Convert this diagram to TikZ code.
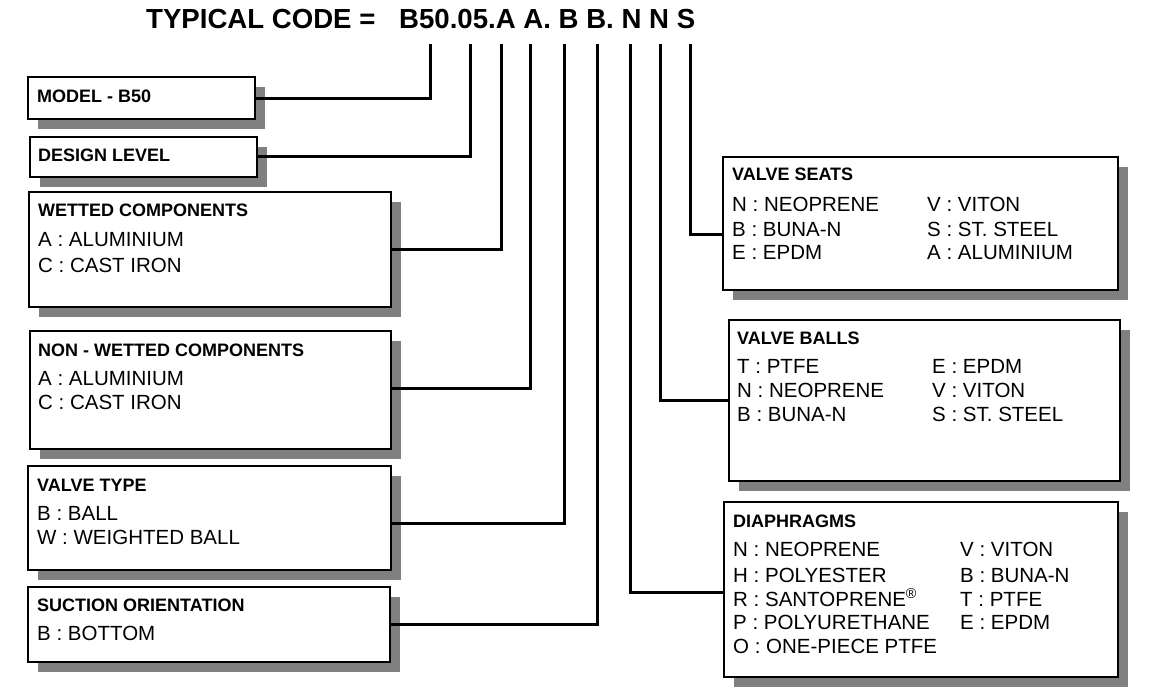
\documentclass[tikz,border=0pt]{standalone}
\usepackage{fontspec}
\setmainfont{Liberation Sans}
\usetikzlibrary{shadows}
\definecolor{shadowgray}{HTML}{808080}
\tikzset{
  box/.style={draw=black, line width=2pt, fill=white, rectangle, inner sep=0pt, outer sep=0pt, anchor=north west,
    general shadow={fill=shadowgray, shadow xshift=10pt, shadow yshift=-10pt}},
  conn/.style={draw=black, line width=3pt},
  lbl/.style={anchor=base west, inner sep=0pt, font=\fontsize{20.5}{24}\selectfont},
  ttl/.style={anchor=base west, inner sep=0pt, font=\fontsize{18}{22}\selectfont\bfseries},
  hdr/.style={anchor=base west, inner sep=0pt, font=\fontsize{27.6}{32}\selectfont\bfseries}
}
\begin{document}
\begin{tikzpicture}[x=1pt,y=-1pt]
\useasboundingbox[fill=white] (0,0) rectangle (1174,695);

% header
\node[hdr] (hd) at (146,29) {TYPICAL CODE =};
\node[hdr] (code) at (399,29) {B50.05.A A. B B. N N S};

% tops of the code leads
\coordinate (c1) at (430,44);
\coordinate (c2) at (470,44);
\coordinate (c3) at (501,44);
\coordinate (c4) at (530,44);
\coordinate (c5) at (564,44);
\coordinate (c6) at (597,44);
\coordinate (c7) at (630,44);
\coordinate (c8) at (660,44);
\coordinate (c9) at (690,44);

% left boxes
\node[box, minimum width=227pt, minimum height=42pt] (mB) at (28,77) {};
\node[ttl] (mBt) at (37,103) {MODEL - B50};

\node[box, minimum width=227pt, minimum height=40pt] (dL) at (30,137) {};
\node[ttl] (dLt) at (38,161) {DESIGN LEVEL};

\node[box, minimum width=362pt, minimum height=115pt] (wC) at (29,192) {};
\node[ttl] (wCt) at (38,216) {WETTED COMPONENTS};
\node[lbl] (wC1) at (38,246) {A : ALUMINIUM};
\node[lbl] (wC2) at (38,272) {C : CAST IRON};

\node[box, minimum width=361pt, minimum height=118pt] (nW) at (30,331) {};
\node[ttl] (nWt) at (38,356) {NON - WETTED COMPONENTS};
\node[lbl] (nW1) at (38,385) {A : ALUMINIUM};
\node[lbl] (nW2) at (38,409) {C : CAST IRON};

\node[box, minimum width=363pt, minimum height=104pt] (vT) at (28,466) {};
\node[ttl] (vTt) at (37,491) {VALVE TYPE};
\node[lbl] (vT1) at (37,520) {B : BALL};
\node[lbl] (vT2) at (37,544) {W : WEIGHTED BALL};

\node[box, minimum width=362pt, minimum height=75pt] (sO) at (28,587) {};
\node[ttl] (sOt) at (37,611) {SUCTION ORIENTATION};
\node[lbl] (sO1) at (37,640) {B : BOTTOM};

% right boxes
\node[box, minimum width=395pt, minimum height=133pt] (vS) at (723,157) {};
\node[ttl] (vSt) at (732,181) {VALVE SEATS};
\node[lbl] (vS1) at (732,211) {N : NEOPRENE};
\node[lbl] (vS2) at (732,236) {B : BUNA-N};
\node[lbl] (vS3) at (732,259) {E : EPDM};
\node[lbl] (vS4) at (927,211) {V : VITON};
\node[lbl] (vS5) at (927,236) {S : ST. STEEL};
\node[lbl] (vS6) at (927,259) {A : ALUMINIUM};

\node[box, minimum width=391pt, minimum height=161pt] (vB) at (729,320) {};
\node[ttl] (vBt) at (737,344) {VALVE BALLS};
\node[lbl] (vB1) at (737,373) {T : PTFE};
\node[lbl] (vB2) at (737,397) {N : NEOPRENE};
\node[lbl] (vB3) at (737,421) {B : BUNA-N};
\node[lbl] (vB4) at (932,373) {E : EPDM};
\node[lbl] (vB5) at (932,397) {V : VITON};
\node[lbl] (vB6) at (932,421) {S : ST. STEEL};

\node[box, minimum width=394pt, minimum height=175pt] (dP) at (724,502) {};
\node[ttl] (dPt) at (733,527) {DIAPHRAGMS};
\node[lbl] (dP1) at (733,556) {N : NEOPRENE};
\node[lbl] (dP2) at (733,582) {H : POLYESTER};
\node[lbl] (dP3) at (733,606) {R : SANTOPRENE\textsuperscript{\textregistered}};
\node[lbl] (dP4) at (733,629) {P : POLYURETHANE};
\node[lbl] (dP5) at (733,653) {O : ONE-PIECE PTFE};
\node[lbl] (dP6) at (960,556) {V : VITON};
\node[lbl] (dP7) at (960,582) {B : BUNA-N};
\node[lbl] (dP8) at (960,606) {T : PTFE};
\node[lbl] (dP9) at (960,629) {E : EPDM};

% connectors
\draw[conn] ([yshift=-1pt]mB.east) -| (c1);
\draw[conn] (dL.east) -| (c2);
\draw[conn] (wC.east) -| (c3);
\draw[conn] ([yshift=2pt]nW.east) -| (c4);
\draw[conn] ([yshift=-5pt]vT.east) -| (c5);
\draw[conn] (sO.east) -| (c6);
\draw[conn] ([yshift=-2.5pt]dP.west) -| (c7);
\draw[conn] (vB.west) -| (c8);
\draw[conn] ([yshift=-10.5pt]vS.west) -| (c9);
\end{tikzpicture}
\end{document}
